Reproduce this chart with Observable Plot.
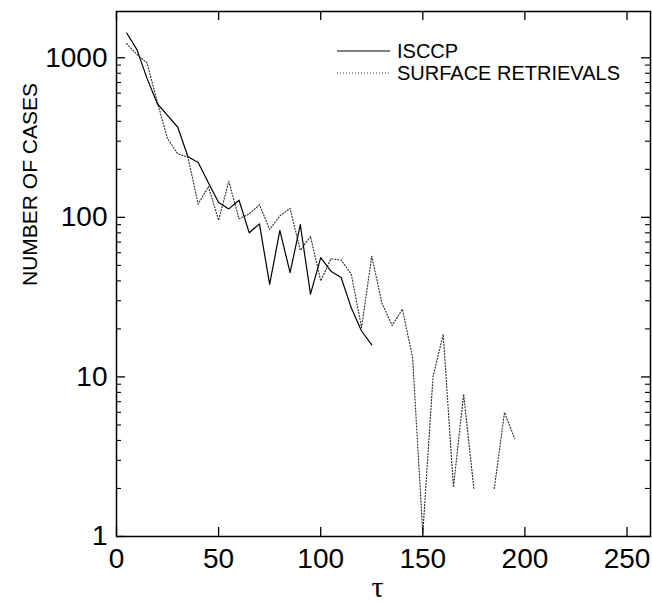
<!DOCTYPE html>
<html>
<head>
<meta charset="utf-8">
<script src="https://cdn.jsdelivr.net/npm/d3@7"></script>
<script src="https://cdn.jsdelivr.net/npm/@observablehq/plot@0.6"></script>
<style>
  html, body { margin: 0; padding: 0; background: #fff; }
  #chart svg { display: block; }
</style>
</head>
<body>
<div id="chart"></div>
<script>
// ---- data ----
const tauIsccp = [5,10,15,20,25,30,35,40,45,50,55,60,65,70,75,80,85,90,95,100,105,110,115,120,125];
const isccp    = [1430,1125,740,515,435,367,240,221,165,124,113,128,80,91,38,83,45,90,33,56,46,42,27,19.4,15.9];

const tauSurface = [5,10,15,20,25,30,35,40,45,50,55,60,65,70,75,80,85,90,95,100,105,110,115,120,125,130,135,140,145,150,155,160,165,170,175,180,185,190,195];
const surface    = [1225,1050,927,527,311,250,238,121,156,96,168,98,105,120,84,102,114,62,76,40,55,54,44,20.4,57,29,21,26.6,13.2,1.05,10,18.5,2.04,7.8,2,null,2,6,4.1];

const xTicks = [0,50,100,150,200,250];
const yMajor = [1,10,100,1000];
const yMinor = [2,3,4,5,6,7,8,9,20,30,40,50,60,70,80,90,200,300,400,500,600,700,800,900];

const legendLabels = ["ISCCP", "SURFACE RETRIEVALS"];

const isccpData = tauIsccp.map((t,i) => ({t, v: isccp[i]}));
const surfaceData = tauSurface.map((t,i) => ({t, v: surface[i]}));

const W = 652, H = 603;
const mL = 116, mR = 2, mT = 11, mB = 67;
const fw = W - mL - mR, fh = H - mT - mB;

const font = "Liberation Sans, Arial, Helvetica, sans-serif";

const chart = Plot.plot({
  width: W, height: H,
  marginLeft: mL, marginRight: mR, marginTop: mT, marginBottom: mB,
  style: {fontFamily: font, background: "#fff", color: "#000"},
  x: {domain: [0, 261.5]},
  y: {type: "log", domain: [1, 1950]},
  marks: [
    // lines
    Plot.line(surfaceData, {x: "t", y: "v", stroke: "#333", strokeWidth: 1.2, strokeDasharray: "1,2"}),
    Plot.line(isccpData, {x: "t", y: "v", stroke: "#000", strokeWidth: 1.2}),
    // inward ticks
    Plot.tickX(xTicks, {x: d => d, stroke: "#000", strokeWidth: 1.3, insetTop: fh - 9}),
    Plot.tickX(xTicks, {x: d => d, stroke: "#000", strokeWidth: 1.3, insetBottom: fh - 9}),
    Plot.tickY(yMajor, {y: d => d, stroke: "#000", strokeWidth: 1.3, insetRight: fw - 9}),
    Plot.tickY(yMajor, {y: d => d, stroke: "#000", strokeWidth: 1.3, insetLeft: fw - 9}),
    Plot.tickY(yMinor, {y: d => d, stroke: "#000", strokeWidth: 1.1, insetRight: fw - 5}),
    Plot.tickY(yMinor, {y: d => d, stroke: "#000", strokeWidth: 1.1, insetLeft: fw - 5}),
    // tick labels
    Plot.axisX({ticks: xTicks, tickSize: 0, tickPadding: 12, fontSize: 28, label: null, tickFormat: d => String(d)}),
    Plot.axisY({ticks: yMajor, tickSize: 0, tickPadding: 9, fontSize: 28, label: null, tickFormat: d => String(d)}),
    // axis labels
    Plot.text(["NUMBER OF CASES"], {frameAnchor: "left", text: d => d, rotate: -90, dx: -86, dy: 12, fontSize: 21, fill: "#000"}),
    Plot.text(["τ"], {frameAnchor: "bottom", text: d => d, dx: -6, dy: 60, fontSize: 30, fontFamily: "Liberation Serif, Times New Roman, serif", fill: "#000"}),
    Plot.frame({stroke: "#000", strokeWidth: 1.5})
  ]
});

document.getElementById("chart").appendChild(chart);

// legend
const svg = d3.select(chart);
const lg = svg.append("g").attr("font-family", font).attr("font-size", 20).attr("text-anchor", "start");
const rows = [
  {label: legendLabels[0], y: 51, dash: null, stroke: "#000"},
  {label: legendLabels[1], y: 73, dash: "1,2", stroke: "#333"}
];
rows.forEach(r => {
  lg.append("line").attr("x1", 337).attr("x2", 390).attr("y1", r.y).attr("y2", r.y)
    .attr("stroke", r.stroke).attr("stroke-width", 1.2).attr("stroke-dasharray", r.dash);
  lg.append("text").attr("x", 397).attr("y", r.y).attr("dy", "0.36em").attr("fill", "#000").text(r.label);
});
</script>
</body>
</html>
